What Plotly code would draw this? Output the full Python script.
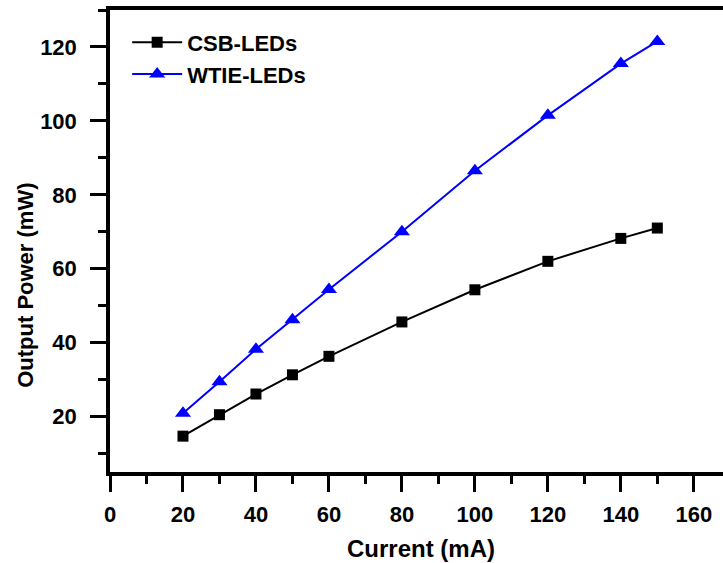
import plotly.graph_objects as go

current = [20, 30, 40, 50, 60, 80, 100, 120, 140, 150]
csb_power = [14.7, 20.5, 26.1, 31.3, 36.3, 45.6, 54.3, 62.0, 68.2, 71.0]
wtie_power = [20.9, 29.4, 38.2, 46.2, 54.4, 70.0, 86.5, 101.5, 115.5, 121.5]

FONT = "Liberation Sans, Arial"

fig = go.Figure()
fig.add_trace(go.Scatter(x=current, y=csb_power, mode="lines+markers", name="<b>CSB-LEDs</b>",
                         line=dict(color="black", width=2),
                         marker=dict(symbol="square", size=11, color="black")))
fig.add_trace(go.Scatter(x=current, y=wtie_power, mode="lines+markers", name="<b>WTIE-LEDs</b>",
                         line=dict(color="#0000ff", width=2),
                         marker=dict(symbol="triangle-up", size=14, color="#0000ff")))

axis_font = dict(family=FONT, size=22, color="black")
common = dict(showgrid=False, zeroline=False, showline=True, linecolor="black", linewidth=3.5,
              ticks="outside", ticklen=16, tickwidth=3, tickcolor="black",
              tickfont=axis_font, tickprefix="<b>", ticksuffix="</b>")
minor = dict(dtick=10, ticks="outside", ticklen=8, tickwidth=3, tickcolor="black")
fig.update_layout(
    width=723, height=563,
    margin=dict(l=110, r=0, t=10, b=91),
    plot_bgcolor="white", paper_bgcolor="white",
    font=dict(family=FONT, color="black"),
    showlegend=True,
    legend=dict(x=0.028, y=0.975, xanchor="left", yanchor="top",
                bgcolor="rgba(0,0,0,0)", itemwidth=50,
                font=dict(family=FONT, size=22, color="black"),
                tracegroupgap=0),
    xaxis=dict(range=[0, 168], tickmode="linear", tick0=0, dtick=20, mirror=True,
               ticklabelstandoff=4, minor=minor, **common),
    yaxis=dict(range=[5, 130], tickmode="linear", tick0=0, dtick=20,
               ticklabelstandoff=9, minor=minor, **common),
    annotations=[
        dict(text="<b>Current (mA)</b>", xref="paper", yref="paper", x=0.507, y=0,
             yshift=-76, xanchor="center", yanchor="middle", showarrow=False,
             font=dict(family=FONT, size=24, color="black")),
        dict(text="<b>Output Power (mW)</b>", xref="paper", yref="paper", x=0, y=0.403,
             xshift=-84, xanchor="center", yanchor="middle", showarrow=False, textangle=-90,
             font=dict(family=FONT, size=22, color="black")),
    ],
)
fig.write_html("out.html", post_script="document.body.style.margin='0px';",
               config={"displayModeBar": False})
